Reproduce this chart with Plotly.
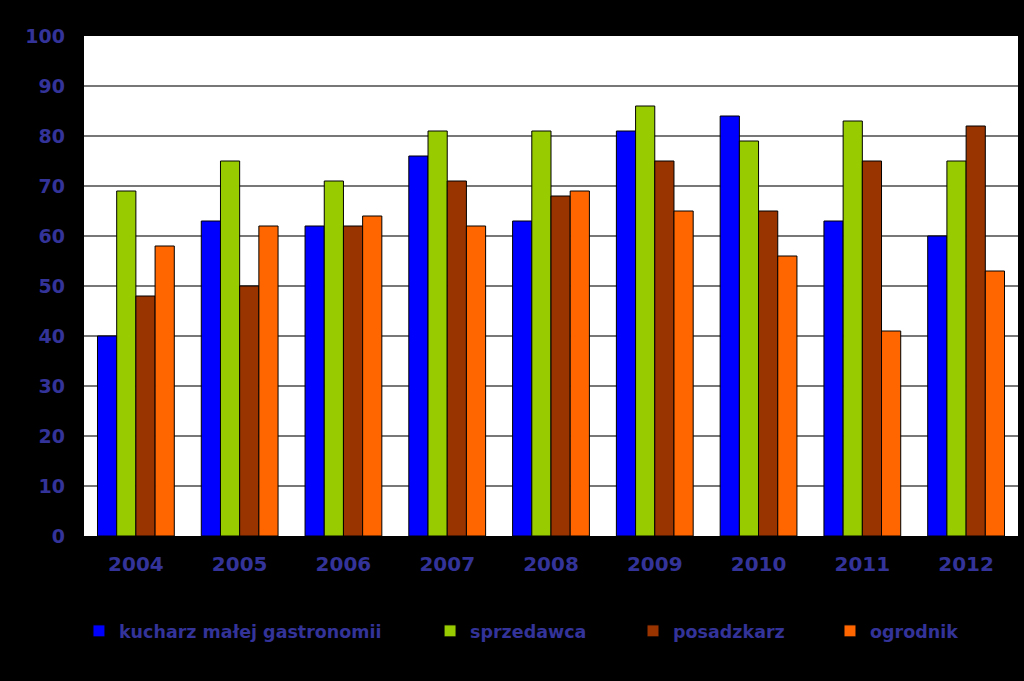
import plotly.graph_objects as go

years = ["2004", "2005", "2006", "2007", "2008", "2009", "2010", "2011", "2012"]
kucharz = [40, 63, 62, 76, 63, 81, 84, 63, 60]
sprzedawca = [69, 75, 71, 81, 81, 86, 79, 83, 75]
posadzkarz = [48, 50, 62, 71, 68, 75, 65, 75, 82]
ogrodnik = [58, 62, 64, 62, 69, 65, 56, 41, 53]

series = [
    ("kucharz małej gastronomii", kucharz, "#0000FF", "legend", -0.0054),
    ("sprzedawca", sprzedawca, "#99CC00", "legend2", 0.3705),
    ("posadzkarz", posadzkarz, "#993300", "legend3", 0.5878),
    ("ogrodnik", ogrodnik, "#FF6600", "legend4", 0.7987),
]

text_color = "#333399"
font_family = "DejaVu Sans"

fig = go.Figure()
for name, vals, color, lg, _ in series:
    fig.add_trace(go.Bar(
        x=years, y=vals, name=name, legend=lg,
        marker=dict(color=color, line=dict(color="#000000", width=1)),
    ))

legend_common = dict(
    orientation="h", yanchor="middle", y=-0.19, xanchor="left",
    bgcolor="rgba(0,0,0,0)", borderwidth=0,
    font=dict(family=font_family, size=17.5, color=text_color, weight="bold"),
    itemwidth=30,
)
layout_legends = {}
for name, vals, color, lg, xpos in series:
    layout_legends[lg] = dict(legend_common, x=xpos)

fig.update_layout(
    width=1024, height=681,
    paper_bgcolor="#000000", plot_bgcolor="#FFFFFF",
    margin=dict(l=84, r=6, t=36, b=145),
    barmode="group", bargap=0.26, bargroupgap=0,
    showlegend=True,
    font=dict(family=font_family, color=text_color),
    xaxis=dict(
        showgrid=False, ticks="", showline=False,
        tickfont=dict(family=font_family, size=20, color=text_color, weight="bold"),
        ticklabelstandoff=14,
    ),
    yaxis=dict(
        range=[0, 100], dtick=10, showgrid=True, gridcolor="#777777", gridwidth=1.5,
        zeroline=False, showline=False, ticks="",
        tickfont=dict(family=font_family, size=19, color=text_color, weight="bold"),
        ticklabelstandoff=18,
    ),
    **layout_legends,
)

fig.write_html(
    "out.html",
    config={"displayModeBar": False},
    post_script="document.body.style.margin='0';document.body.style.background='#000';",
)
